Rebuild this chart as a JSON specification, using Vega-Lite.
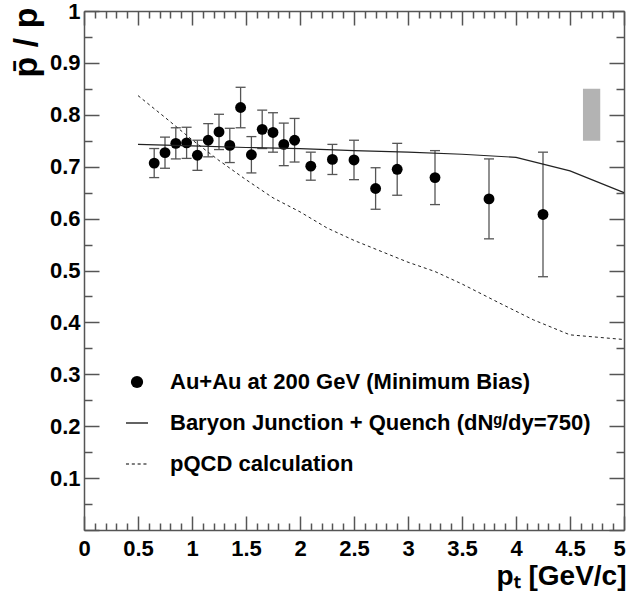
{
  "$schema": "https://vega.github.io/schema/vega-lite/v6.json",
  "width": 540,
  "height": 519,
  "autosize": {"type": "none"},
  "padding": {"left": 84, "top": 11, "right": 5, "bottom": 62},
  "background": "white",
  "config": {
    "view": {"stroke": null},
    "font": "Liberation Sans",
    "axis": {
      "grid": false,
      "domainColor": "#555555",
      "domainWidth": 1.5,
      "tickColor": "#555555",
      "tickWidth": 1.5,
      "labelFlush": false,
      "labelFont": "Liberation Sans",
      "labelFontWeight": "bold",
      "labelFontSize": 22,
      "labelColor": "black",
      "titleFont": "Liberation Sans",
      "titleFontWeight": "bold",
      "titleColor": "black"
    }
  },
  "datasets": {
    "points": [
      {"pt": 0.65, "ratio": 0.707, "lo": 0.679, "hi": 0.735},
      {"pt": 0.75, "ratio": 0.727, "lo": 0.697, "hi": 0.757},
      {"pt": 0.85, "ratio": 0.745, "lo": 0.715, "hi": 0.775},
      {"pt": 0.95, "ratio": 0.746, "lo": 0.716, "hi": 0.776},
      {"pt": 1.05, "ratio": 0.722, "lo": 0.693, "hi": 0.751},
      {"pt": 1.15, "ratio": 0.751, "lo": 0.719, "hi": 0.783},
      {"pt": 1.25, "ratio": 0.767, "lo": 0.733, "hi": 0.801},
      {"pt": 1.35, "ratio": 0.741, "lo": 0.708, "hi": 0.774},
      {"pt": 1.45, "ratio": 0.814, "lo": 0.775, "hi": 0.853},
      {"pt": 1.55, "ratio": 0.723, "lo": 0.688, "hi": 0.758},
      {"pt": 1.65, "ratio": 0.772, "lo": 0.735, "hi": 0.809},
      {"pt": 1.75, "ratio": 0.766, "lo": 0.728, "hi": 0.804},
      {"pt": 1.85, "ratio": 0.743, "lo": 0.702, "hi": 0.784},
      {"pt": 1.95, "ratio": 0.751, "lo": 0.709, "hi": 0.793},
      {"pt": 2.1, "ratio": 0.701, "lo": 0.674, "hi": 0.728},
      {"pt": 2.3, "ratio": 0.714, "lo": 0.685, "hi": 0.743},
      {"pt": 2.5, "ratio": 0.713, "lo": 0.675, "hi": 0.751},
      {"pt": 2.7, "ratio": 0.658, "lo": 0.618, "hi": 0.698},
      {"pt": 2.9, "ratio": 0.695, "lo": 0.645, "hi": 0.745},
      {"pt": 3.25, "ratio": 0.679, "lo": 0.627, "hi": 0.731},
      {"pt": 3.75, "ratio": 0.638, "lo": 0.561, "hi": 0.715},
      {"pt": 4.25, "ratio": 0.608, "lo": 0.488, "hi": 0.728}
    ],
    "bj": [
      {"pt": 0.5, "ratio": 0.743},
      {"pt": 1.0, "ratio": 0.740},
      {"pt": 1.5, "ratio": 0.737},
      {"pt": 2.0, "ratio": 0.735},
      {"pt": 2.5, "ratio": 0.731},
      {"pt": 3.0, "ratio": 0.728},
      {"pt": 3.5, "ratio": 0.724},
      {"pt": 4.0, "ratio": 0.718},
      {"pt": 4.5, "ratio": 0.692},
      {"pt": 5.0, "ratio": 0.650}
    ],
    "pqcd": [
      {"pt": 0.5, "ratio": 0.837},
      {"pt": 0.75, "ratio": 0.795},
      {"pt": 1.0, "ratio": 0.752},
      {"pt": 1.25, "ratio": 0.712},
      {"pt": 1.5, "ratio": 0.675},
      {"pt": 1.75, "ratio": 0.640},
      {"pt": 2.0, "ratio": 0.613},
      {"pt": 2.25, "ratio": 0.582},
      {"pt": 2.5, "ratio": 0.558},
      {"pt": 3.0, "ratio": 0.516},
      {"pt": 3.25, "ratio": 0.498},
      {"pt": 3.5, "ratio": 0.474},
      {"pt": 3.85, "ratio": 0.437},
      {"pt": 4.16, "ratio": 0.405},
      {"pt": 4.5, "ratio": 0.376},
      {"pt": 5.0, "ratio": 0.367}
    ],
    "sys": [
      {"x1": 4.62, "x2": 4.78, "y1": 0.75, "y2": 0.85}
    ]
  },
  "resolve": {"axis": {"x": "independent", "y": "independent"}},
  "layer": [
    {
      "data": {"name": "sys"},
      "mark": {"type": "rect", "fill": "#b3b3b3"},
      "encoding": {
        "x": {"field": "x1", "type": "quantitative", "scale": {"domain": [0, 5], "nice": false, "zero": false}, "axis": null},
        "x2": {"field": "x2"},
        "y": {"field": "y1", "type": "quantitative", "scale": {"domain": [0, 1], "nice": false}, "axis": null},
        "y2": {"field": "y2"}
      }
    },
    {
      "data": {"name": "points"},
      "mark": {"type": "rule", "stroke": "#555555", "strokeWidth": 1.3},
      "encoding": {
        "x": {"field": "pt", "type": "quantitative", "axis": {"orient": "bottom", "values": [0.1,0.2,0.3,0.4,0.6,0.7,0.8,0.9,1.1,1.2,1.3,1.4,1.6,1.7,1.8,1.9,2.1,2.2,2.3,2.4,2.6,2.7,2.8,2.9,3.1,3.2,3.3,3.4,3.6,3.7,3.8,3.9,4.1,4.2,4.3,4.4,4.6,4.7,4.8,4.9], "labels": false, "domain": false, "tickSize": -7, "title": null}},
        "y": {"field": "lo", "type": "quantitative", "axis": {"orient": "left", "values": [0.05,0.15,0.25,0.35,0.45,0.55,0.65,0.75,0.85,0.95], "labels": false, "domain": false, "tickSize": -8, "title": null}},
        "y2": {"field": "hi"}
      }
    },
    {
      "data": {"name": "points"},
      "mark": {"type": "point", "shape": "stroke", "stroke": "#555555", "strokeWidth": 1.3, "size": 100, "filled": false, "opacity": 1},
      "encoding": {
        "x": {"field": "pt", "type": "quantitative", "axis": null},
        "y": {"field": "lo", "type": "quantitative", "axis": null}
      }
    },
    {
      "data": {"name": "points"},
      "mark": {"type": "point", "shape": "stroke", "stroke": "#555555", "strokeWidth": 1.3, "size": 100, "filled": false, "opacity": 1},
      "encoding": {
        "x": {"field": "pt", "type": "quantitative", "axis": null},
        "y": {"field": "hi", "type": "quantitative", "axis": null}
      }
    },
    {
      "data": {"name": "points"},
      "mark": {"type": "point", "filled": true, "fill": "black", "opacity": 1, "size": 118},
      "encoding": {
        "x": {"field": "pt", "type": "quantitative", "axis": {"orient": "bottom", "values": [0,0.5,1,1.5,2,2.5,3,3.5,4,4.5,5], "format": ".1~f", "tickSize": -14, "labelPadding": 22, "labelOffset": {"condition": {"test": "datum.value == 5", "value": -5}, "value": 0}, "title": "pₜ [GeV/c]", "titleFontSize": 28, "titleAnchor": "end", "titleAlign": "right", "titleX": 542, "titleY": 54, "titleBaseline": "alphabetic"}},
        "y": {"field": "ratio", "type": "quantitative", "axis": {"orient": "left", "values": [0,0.1,0.2,0.3,0.4,0.5,0.6,0.7,0.8,0.9,1], "labelExpr": "datum.value == 0 ? '' : format(datum.value, '.1~f')", "tickSize": -15, "labelPadding": 19, "title": "p̄ / p", "titleFontSize": 34, "titleAngle": 270, "titleAnchor": "end", "titleAlign": "right", "titleX": -48, "titleY": -4, "titleBaseline": "alphabetic"}},
        "shape": {
          "datum": "Au+Au at 200 GeV (Minimum Bias)",
          "scale": {
            "domain": ["Au+Au at 200 GeV (Minimum Bias)", "Baryon Junction + Quench (dNᵍ/dy=750)", "pQCD calculation"],
            "range": ["circle", "M-1.8,-0.1H1.8V0.1H-1.8Z", "M-1.8,-0.08H-1.3V0.08H-1.8Z M-0.85,-0.08H-0.35V0.08H-0.85Z M0.1,-0.08H0.6V0.08H0.1Z M1.05,-0.08H1.55V0.08H1.05Z"]
          },
          "legend": {
            "title": null,
            "orient": "none",
            "legendX": 42,
            "legendY": 360,
            "symbolSize": 150,
            "symbolFillColor": "black",
            "symbolStrokeColor": "transparent",
            "labelFont": "Liberation Sans",
            "labelFontWeight": "bold",
            "labelFontSize": 22,
            "labelColor": "black",
            "labelLimit": 600,
            "labelOffset": 22,
            "rowPadding": 19,
            "encode": {"symbols": {"update": {"fill": {"value": "black"}, "stroke": {"value": "transparent"}}}}
          }
        }
      }
    },
    {
      "data": {"name": "bj"},
      "mark": {"type": "line", "stroke": "#222222", "strokeWidth": 1.2},
      "encoding": {
        "x": {"field": "pt", "type": "quantitative", "axis": {"orient": "top", "values": [0,0.5,1,1.5,2,2.5,3,3.5,4,4.5,5], "labels": false, "tickSize": -14, "title": null}},
        "y": {"field": "ratio", "type": "quantitative", "axis": {"orient": "right", "values": [0,0.1,0.2,0.3,0.4,0.5,0.6,0.7,0.8,0.9,1], "labels": false, "tickSize": -15, "title": null}}
      }
    },
    {
      "data": {"name": "pqcd"},
      "mark": {"type": "line", "stroke": "#222222", "strokeWidth": 1, "strokeDash": [3, 3]},
      "encoding": {
        "x": {"field": "pt", "type": "quantitative", "axis": {"orient": "top", "values": [0.1,0.2,0.3,0.4,0.6,0.7,0.8,0.9,1.1,1.2,1.3,1.4,1.6,1.7,1.8,1.9,2.1,2.2,2.3,2.4,2.6,2.7,2.8,2.9,3.1,3.2,3.3,3.4,3.6,3.7,3.8,3.9,4.1,4.2,4.3,4.4,4.6,4.7,4.8,4.9], "labels": false, "domain": false, "tickSize": -7, "title": null}},
        "y": {"field": "ratio", "type": "quantitative", "axis": {"orient": "right", "values": [0.05,0.15,0.25,0.35,0.45,0.55,0.65,0.75,0.85,0.95], "labels": false, "domain": false, "tickSize": -8, "title": null}}
      }
    }
  ]
}
